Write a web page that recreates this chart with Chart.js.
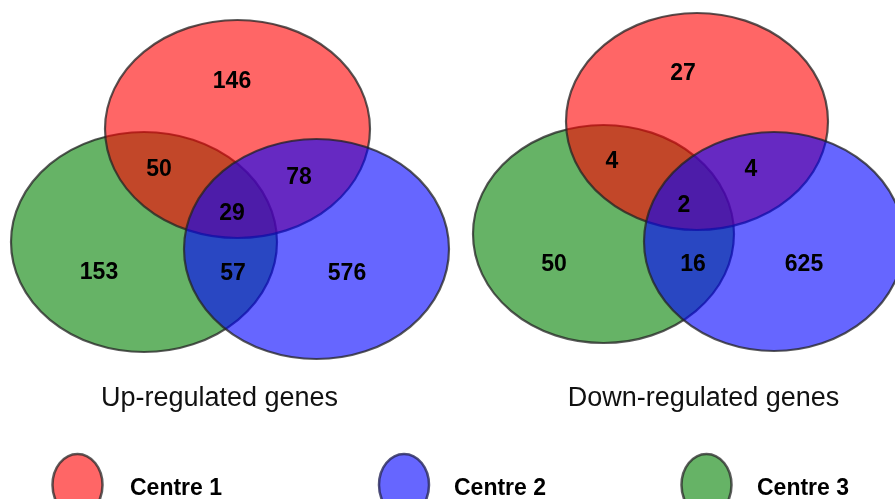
<!DOCTYPE html>
<html>
<head>
<meta charset="utf-8">
<script src="https://cdn.jsdelivr.net/npm/chart.js@4"></script>
<style>
  html, body { margin: 0; padding: 0; background: #fff; }
  #wrap { width: 895px; height: 499px; }
</style>
</head>
<body>
<div id="wrap"><canvas id="venn" width="895" height="499"></canvas></div>
<script>
// data
const centres = ['Centre 1', 'Centre 2', 'Centre 3'];
const regions = ['1', '2', '3', '1+2', '1+3', '2+3', '1+2+3'];
const upValues = [146, 576, 153, 78, 50, 57, 29];
const downValues = [27, 625, 50, 4, 4, 16, 2];
const panelTitles = ['Up-regulated genes', 'Down-regulated genes'];

// layout (axis units = pixels of the 895x499 frame)
const fills = ['rgba(255,0,0,0.6)', 'rgba(0,0,255,0.6)', 'rgba(0,128,0,0.6)'];
const legendFills = ['#ff6666', '#6666ff', '#66b366'];
const panels = [
    {
        // drawn green, red, blue
        ellipses: [
            { c: 2, x: 144, y: 242, rx: 133, ry: 110 },
            { c: 0, x: 237.5, y: 129, rx: 132.5, ry: 109 },
            { c: 1, x: 316.5, y: 249, rx: 132.5, ry: 110 }
        ],
        anchors: [[232, 80], [347, 272], [99, 271], [299, 176], [159, 168], [233, 272], [232, 212]],
        title: [219.5, 406]
    },
    {
        ellipses: [
            { c: 2, x: 603.5, y: 234, rx: 130.5, ry: 109 },
            { c: 0, x: 697, y: 121.5, rx: 131, ry: 108.5 },
            { c: 1, x: 774, y: 241.5, rx: 130, ry: 109.5 }
        ],
        anchors: [[683, 72], [804, 263], [554, 263], [751, 168], [612, 160], [693, 263], [684, 204]],
        title: [703.5, 406]
    }
];
const legendPos = [[77.5, 130], [404, 454], [706.5, 757]];

const vennPlugin = {
    id: 'venn',
    beforeDatasetsDraw(chart) {
        const ctx = chart.ctx;
        const sx = chart.scales.x, sy = chart.scales.y;
        ctx.save();
        panels.forEach(p => {
            p.ellipses.forEach(e => {
                const cx = sx.getPixelForValue(e.x);
                const cy = sy.getPixelForValue(e.y);
                const rx = Math.abs(sx.getPixelForValue(e.x + e.rx) - cx);
                const ry = Math.abs(sy.getPixelForValue(e.y + e.ry) - cy);
                ctx.beginPath();
                ctx.ellipse(cx, cy, rx, ry, 0, 0, Math.PI * 2);
                ctx.fillStyle = fills[e.c];
                ctx.fill();
                ctx.lineWidth = 2.2;
                ctx.strokeStyle = 'rgba(35,35,35,0.75)';
                ctx.stroke();
            });
        });
        ctx.restore();
    },
    afterDatasetsDraw(chart) {
        const ctx = chart.ctx;
        const sx = chart.scales.x, sy = chart.scales.y;
        ctx.save();
        ctx.fillStyle = '#000';
        ctx.textAlign = 'center';
        ctx.textBaseline = 'alphabetic';
        // region counts
        ctx.font = 'bold 23px "Liberation Sans", Arial, sans-serif';
        chart.data.datasets.forEach((ds, di) => {
            const meta = chart.getDatasetMeta(di);
            meta.data.forEach((pt, i) => {
                ctx.fillText(String(ds.data[i].v), pt.x, pt.y + 8.2);
            });
        });
        // panel titles
        ctx.font = '27px "Liberation Sans", Arial, sans-serif';
        ctx.fillStyle = '#111';
        panels.forEach((p, i) => {
            ctx.fillText(panelTitles[i], sx.getPixelForValue(p.title[0]), sy.getPixelForValue(p.title[1]));
        });
        // legend
        centres.forEach((name, i) => {
            const cx = sx.getPixelForValue(legendPos[i][0]);
            const cy = sy.getPixelForValue(485);
            ctx.beginPath();
            ctx.ellipse(cx, cy, 25, 31, 0, 0, Math.PI * 2);
            ctx.fillStyle = legendFills[i];
            ctx.fill();
            ctx.lineWidth = 2.5;
            ctx.strokeStyle = i === 1 ? 'rgba(40,40,90,0.8)' : 'rgba(40,40,40,0.75)';
            ctx.stroke();
            ctx.fillStyle = '#000';
            ctx.font = 'bold 23px "Liberation Sans", Arial, sans-serif';
            ctx.textAlign = 'left';
            ctx.fillText(name, sx.getPixelForValue(legendPos[i][1]), sy.getPixelForValue(495));
        });
        ctx.restore();
    }
};

const toPoints = (values, panel) => values.map((v, i) => ({
    x: panel.anchors[i][0], y: panel.anchors[i][1], v: v, region: regions[i]
}));

new Chart(document.getElementById('venn').getContext('2d'), {
    type: 'scatter',
    data: {
        datasets: [
            { label: panelTitles[0], data: toPoints(upValues, panels[0]), pointRadius: 0, pointHoverRadius: 0 },
            { label: panelTitles[1], data: toPoints(downValues, panels[1]), pointRadius: 0, pointHoverRadius: 0 }
        ]
    },
    options: {
        responsive: false,
        animation: false,
        devicePixelRatio: 1,
        layout: { padding: 0 },
        plugins: {
            legend: { display: false },
            tooltip: { enabled: false }
        },
        scales: {
            x: { type: 'linear', min: 0, max: 895, display: false },
            y: { type: 'linear', min: 0, max: 499, reverse: true, display: false }
        }
    },
    plugins: [vennPlugin]
});
</script>
</body>
</html>
